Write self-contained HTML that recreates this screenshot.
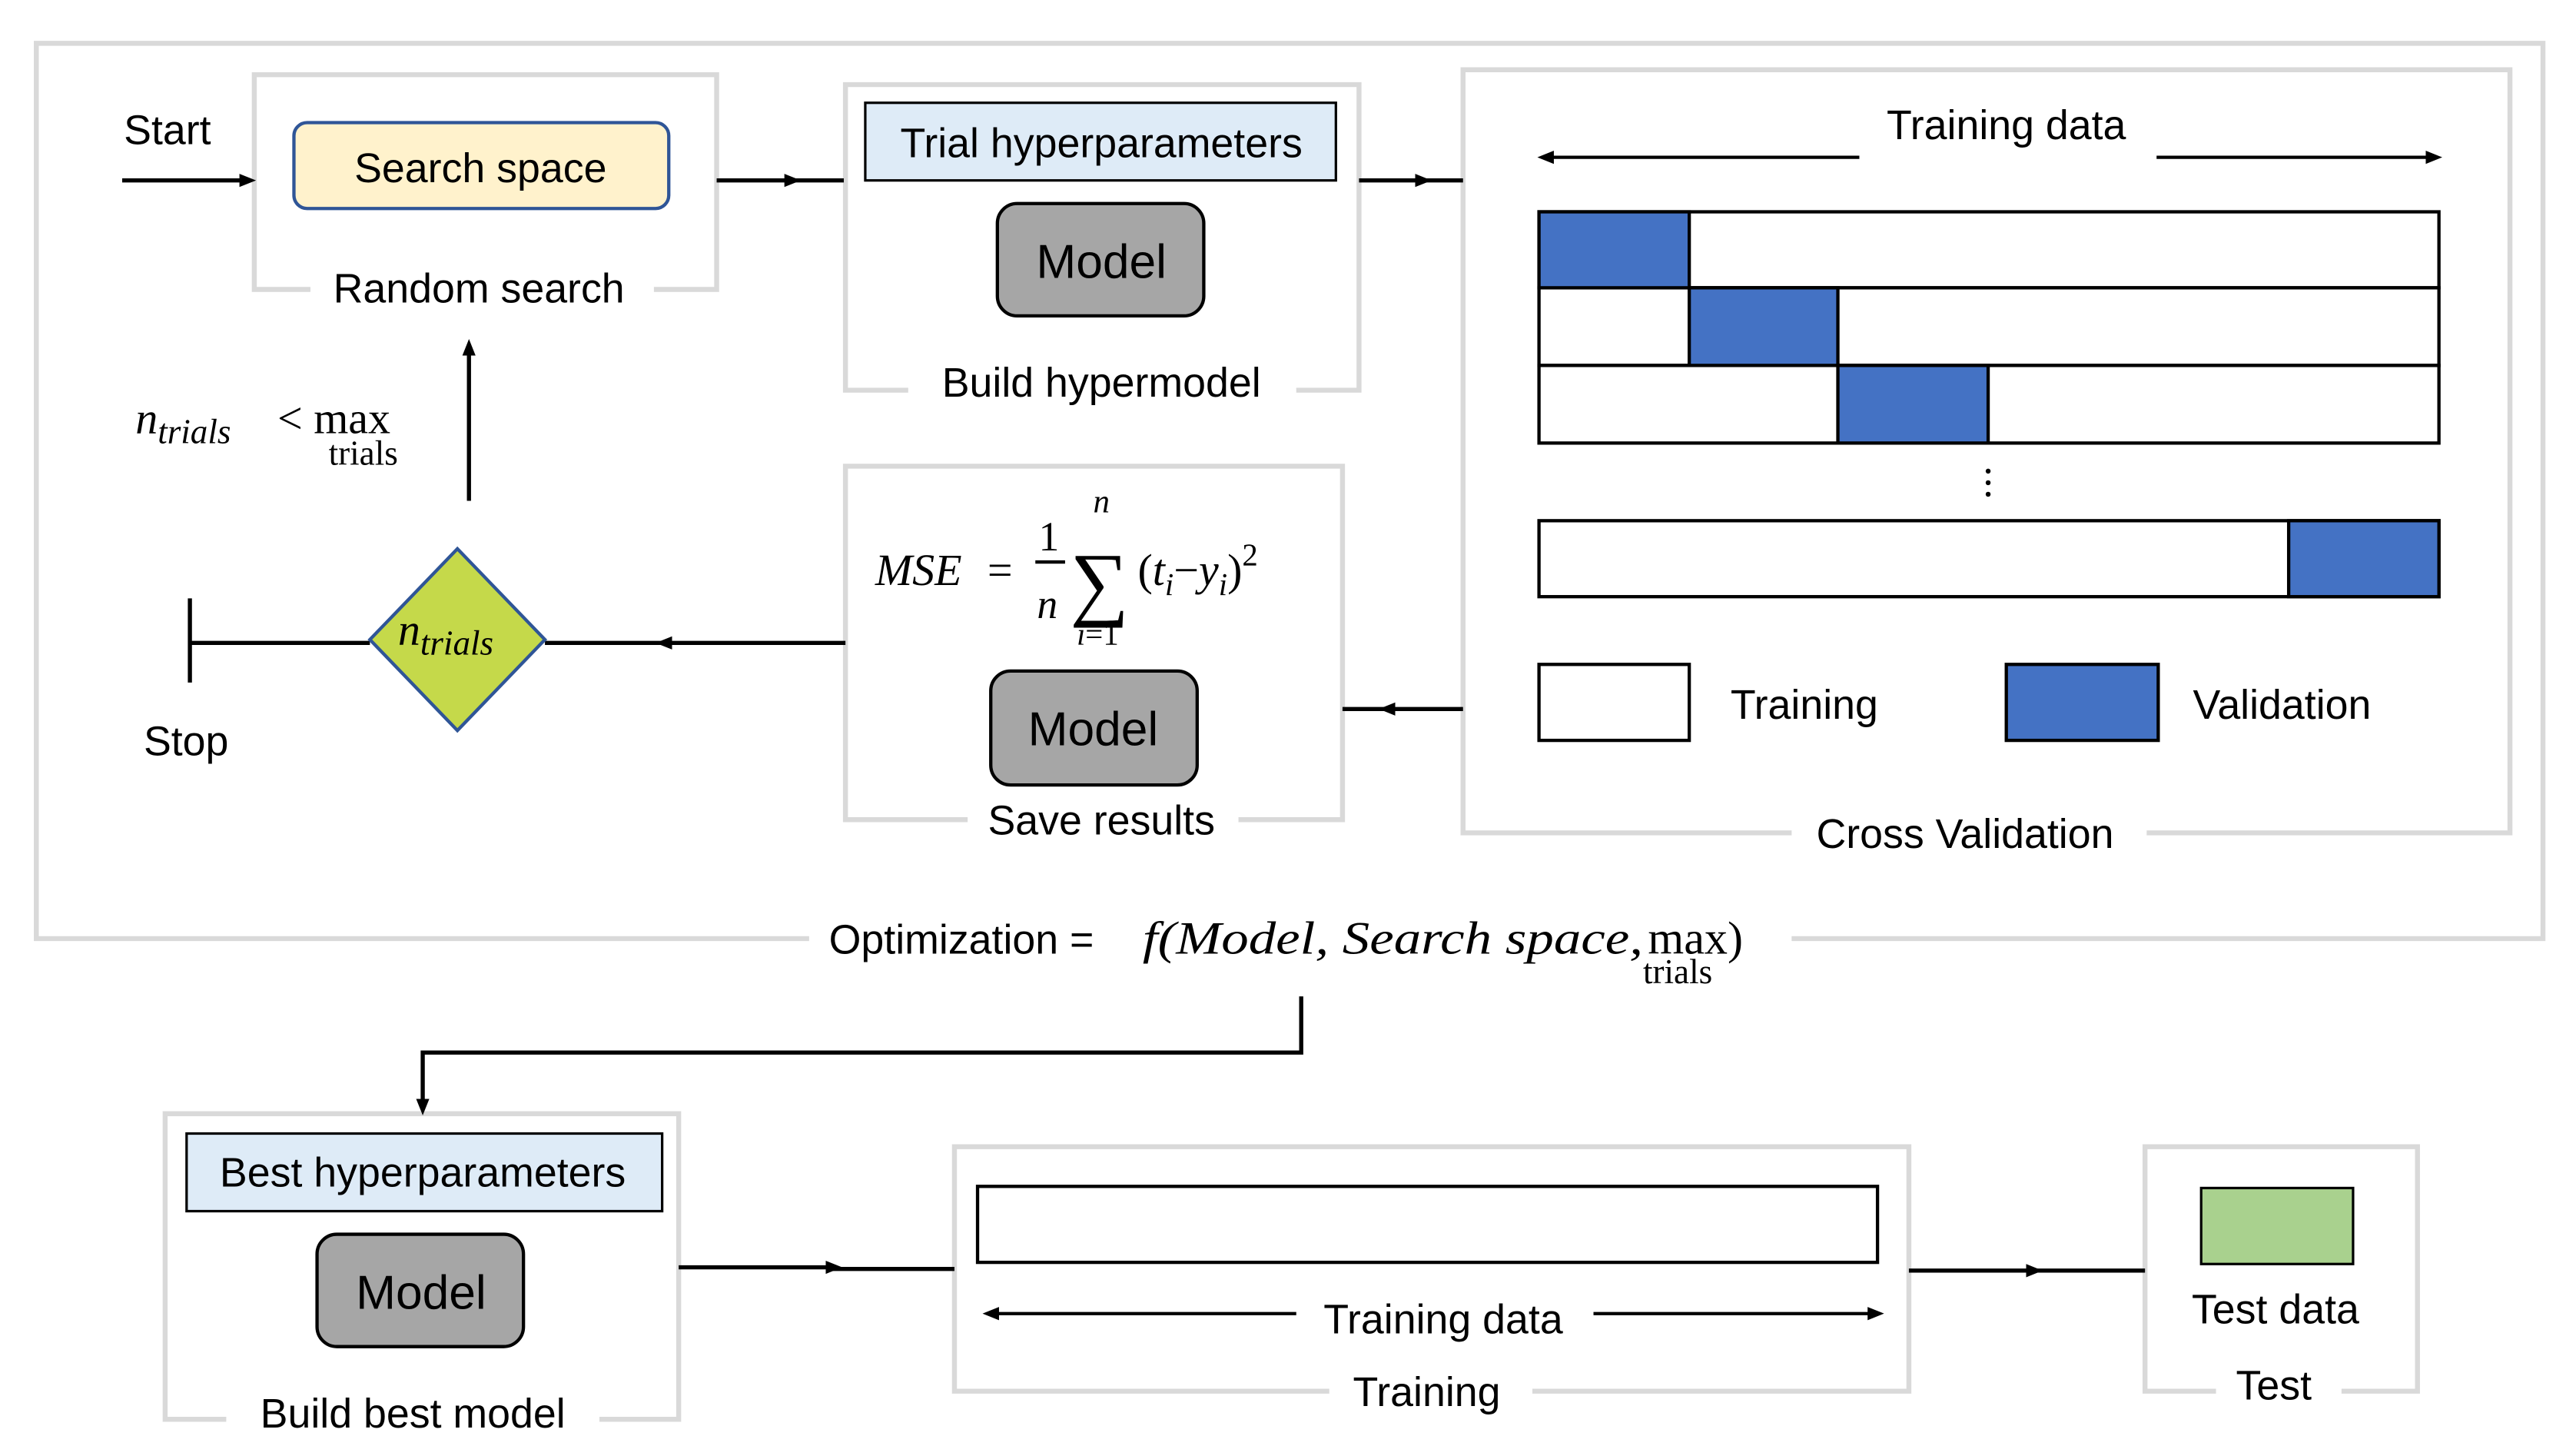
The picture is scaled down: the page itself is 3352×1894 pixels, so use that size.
<!DOCTYPE html>
<html><head><meta charset="utf-8"><style>
html,body{margin:0;padding:0;background:#fff;}
svg{display:block;}
text{font-family:"Liberation Sans",sans-serif;fill:#000;}
.m{font-family:"Liberation Serif",serif;font-style:italic;}
.r{font-family:"Liberation Serif",serif;}
</style></head><body>
<svg width="3352" height="1894" viewBox="0 0 1560 881" font-size="25" xmlns="http://www.w3.org/2000/svg">
<defs>
<marker id="a" markerWidth="10" markerHeight="10" refX="5" refY="5" orient="auto" markerUnits="userSpaceOnUse"><path d="M0,1 L10,5 L0,9 z" fill="#000"/></marker>
</defs>
<g fill="none" stroke="#d9d9d9" stroke-width="3">
<path d="M490,568 H22 V26 H1540 V568 H1085"/>
<path d="M188,175 H154 V45 H434 V175 H396"/>
<path d="M550,236 H512 V51 H823 V236 H785"/>
<path d="M1085,504 H886 V42 H1520 V504 H1300"/>
<path d="M586,496 H512 V282 H813 V496 H750"/>
<path d="M137,859 H100 V674 H411 V859 H363"/>
<path d="M805,842 H578 V694 H1156 V842 H928"/>
<path d="M1342,842 H1299 V694 H1464 V842 H1418"/>
</g>
<g stroke="#000" stroke-width="2.5" fill="none">
<path d="M74,109 H150" marker-end="url(#a)"/>
<path d="M434,109 H480" marker-end="url(#a)"/><path d="M478,109 H511"/>
<path d="M823,109 H862" marker-end="url(#a)"/><path d="M860,109 H886"/>
<path d="M886,429 H840" marker-end="url(#a)"/><path d="M842,429 H813"/>
<path d="M512,389 H402" marker-end="url(#a)"/><path d="M404,389 H330"/>
<path d="M224,389 H115 M115,362 V413"/>
<path d="M284,303 V210" marker-end="url(#a)"/>
<path d="M788,603 V637 H256 V670" marker-end="url(#a)"/>
<path d="M411,767 H505" marker-end="url(#a)"/><path d="M503,768 H578"/>
<path d="M1156,769 H1232" marker-end="url(#a)"/><path d="M1230,769 H1299"/>
<path d="M1126,95 H936" marker-end="url(#a)" stroke-width="2"/>
<path d="M1306,95 H1474" marker-end="url(#a)" stroke-width="2"/>
<path d="M785,795 H600" marker-end="url(#a)" stroke-width="2"/>
<path d="M965,795 H1136" marker-end="url(#a)" stroke-width="2"/>
</g>
<rect x="178" y="74" width="227" height="52" rx="8" fill="#fff2cc" stroke="#2f5597" stroke-width="2"/>
<rect x="524" y="62" width="285" height="47" fill="#deebf7" stroke="#000" stroke-width="1.5"/>
<rect x="113" y="686" width="288" height="47" fill="#deebf7" stroke="#000" stroke-width="1.5"/>
<g fill="#a6a6a6" stroke="#000" stroke-width="2">
<rect x="604" y="123" width="125" height="68" rx="12"/>
<rect x="600" y="406" width="125" height="69" rx="12"/>
<rect x="192" y="747" width="125" height="68" rx="12"/>
</g>
<g stroke="#000" stroke-width="2" fill="#fff">
<rect x="932" y="128" width="545" height="46"/>
<rect x="932" y="174" width="545" height="47"/>
<rect x="932" y="221" width="545" height="47"/>
<rect x="932" y="315" width="545" height="46"/>
<rect x="932" y="402" width="91" height="46"/>
<rect x="592" y="718" width="545" height="46"/>
</g>
<g stroke="#000" stroke-width="2" fill="#4472c4">
<rect x="932" y="128" width="91" height="46"/>
<rect x="1023" y="174" width="90" height="47"/>
<rect x="1113" y="221" width="91" height="47"/>
<rect x="1386" y="315" width="91" height="46"/>
<rect x="1215" y="402" width="92" height="46"/>
</g>
<rect x="1333" y="719" width="92" height="46" fill="#a9d18e" stroke="#000" stroke-width="1.5"/>
<polygon points="277,332 330,387 277,442 224,387" fill="#c5d94a" stroke="#2f5597" stroke-width="2"/>
<g fill="#000"><circle cx="1204" cy="285" r="1.5"/><circle cx="1204" cy="292" r="1.5"/><circle cx="1204" cy="299" r="1.5"/></g>
<text x="75" y="87">Start</text>
<text x="291" y="110" text-anchor="middle">Search space</text>
<text x="290" y="183" text-anchor="middle">Random search</text>
<text x="667" y="95" text-anchor="middle">Trial hyperparameters</text>
<text x="667" y="168" text-anchor="middle" font-size="29">Model</text>
<text x="667" y="240" text-anchor="middle">Build hypermodel</text>
<text x="1215" y="84" text-anchor="middle">Training data</text>
<text x="1048" y="435">Training</text>
<text x="1328" y="435">Validation</text>
<text x="1190" y="513" text-anchor="middle">Cross Validation</text>
<text x="662" y="451" text-anchor="middle" font-size="29">Model</text>
<text x="667" y="505" text-anchor="middle">Save results</text>
<text x="530" y="354" class="m" font-size="27">MSE</text>
<text x="598" y="354" class="r" font-size="27">=</text>
<text x="629" y="333" class="r" font-size="25">1</text>
<path d="M627,340 H645" stroke="#000" stroke-width="2"/>
<text x="628" y="374" class="m" font-size="25">n</text>
<text x="662" y="310" class="m" font-size="20">n</text>
<text x="648" y="369" class="r" font-size="50">∑</text>
<text x="652" y="390" class="m" font-size="19">i<tspan class="r" font-style="normal">=1</tspan></text>
<text x="689" y="354" class="m" font-size="27"><tspan font-style="normal">(</tspan>t<tspan font-size="19" dy="6">i</tspan><tspan dy="-6" font-style="normal">−</tspan>y<tspan font-size="19" dy="6">i</tspan><tspan dy="-6" font-style="normal">)</tspan><tspan font-style="normal" font-size="19" dy="-12">2</tspan></text>
<text x="241" y="390" class="m" font-size="27">n<tspan font-size="21" dy="6">trials</tspan></text>
<text x="82" y="262" class="m" font-size="27">n<tspan font-size="21" dy="6">trials</tspan></text>
<text x="168" y="262" class="r" font-size="27">&lt; max</text>
<text x="199" y="281" class="r" font-size="21">trials</text>
<text x="87" y="457">Stop</text>
<text x="502" y="577">Optimization =</text>
<text x="692" y="577" class="m" font-size="28" textLength="303" lengthAdjust="spacingAndGlyphs">f(Model, Search space,</text>
<text x="998" y="577" class="r" font-size="28">max)</text>
<text x="995" y="595" class="r" font-size="21">trials</text>
<text x="256" y="718" text-anchor="middle">Best hyperparameters</text>
<text x="255" y="792" text-anchor="middle" font-size="29">Model</text>
<text x="250" y="864" text-anchor="middle">Build best model</text>
<text x="874" y="807" text-anchor="middle">Training data</text>
<text x="864" y="851" text-anchor="middle">Training</text>
<text x="1378" y="801" text-anchor="middle">Test data</text>
<text x="1377" y="847" text-anchor="middle">Test</text>
</svg>
</body></html>
